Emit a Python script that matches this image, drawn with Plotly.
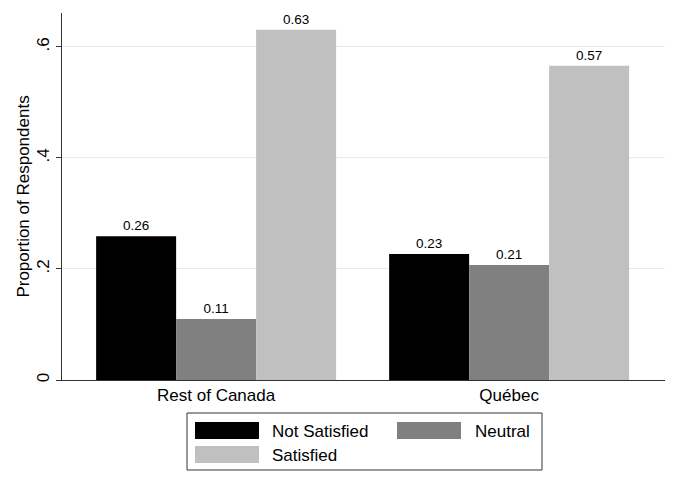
import plotly.graph_objects as go

regions = ["Rest of Canada", "Québec"]
series_names = ["Not Satisfied", "Neutral", "Satisfied"]
not_satisfied = [0.259, 0.227]
neutral = [0.110, 0.207]
satisfied = [0.631, 0.566]
y_tick_vals = [0, 0.2, 0.4, 0.6]
y_tick_text = ["0", ".2", ".4", ".6"]

colors = ["#000000", "#808080", "#c0c0c0"]
values = [not_satisfied, neutral, satisfied]

W, H = 675, 491
L, R, T, B = 62, 10, 13, 111
PW, PH = W - L - R, H - T - B

def px(x):
    return (x - L) / PW

def py(y):
    return (H - B - y) / PH

FONT = "Liberation Sans, Arial, Helvetica, sans-serif"

fig = go.Figure()
for name, vals, col in zip(series_names, values, colors):
    fig.add_trace(go.Bar(
        x=regions, y=vals, name=name,
        marker=dict(color=col, line=dict(width=0)),
        texttemplate="%{y:.2f}", textposition="outside",
        textfont=dict(size=13.5, color="black", family=FONT),
        cliponaxis=False, showlegend=False,
    ))

# manual legend (Stata style)
shapes = [dict(type="rect", xref="paper", yref="paper",
               x0=px(187), x1=px(542), y0=py(470), y1=py(413),
               line=dict(color="#333333", width=1), fillcolor="white")]
annotations = []
legend_pos = [(195, 422, 270), (397, 422, 473), (195, 446, 270)]
for name, col, (sx, sy, tx) in zip(series_names, colors, legend_pos):
    shapes.append(dict(type="rect", xref="paper", yref="paper",
                       x0=px(sx), x1=px(sx + 64), y0=py(sy + 17), y1=py(sy),
                       line=dict(width=0), fillcolor=col))
    annotations.append(dict(xref="paper", yref="paper", x=px(tx), y=py(sy + 9),
                            text=name, showarrow=False, xanchor="left", yanchor="middle",
                            font=dict(size=17, color="black", family=FONT)))

fig.update_layout(
    width=W, height=H,
    margin=dict(l=L, r=R, t=T, b=B),
    paper_bgcolor="white", plot_bgcolor="white",
    barmode="group", bargap=0.181, bargroupgap=0,
    font=dict(family=FONT, color="black"),
    shapes=shapes, annotations=annotations,
    xaxis=dict(range=[-0.526, 1.532], showline=True, linecolor="#333333", linewidth=1,
               ticks="", showgrid=False, tickfont=dict(size=17, family=FONT),
               fixedrange=True),
    yaxis=dict(range=[0, 0.661], tickvals=y_tick_vals, ticktext=y_tick_text,
               tickangle=-90, ticks="outside", ticklen=5, tickcolor="#333333",
               showline=True, linecolor="#333333", linewidth=1,
               showgrid=True, gridcolor="#eaeaea", gridwidth=1, zeroline=False,
               tickfont=dict(size=17, family=FONT),
               title=dict(text="Proportion of Respondents", font=dict(size=17, family=FONT), standoff=0)),
)

fig.write_html("out.html")
